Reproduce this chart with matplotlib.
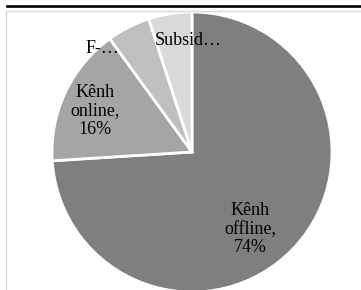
import numpy as np
import matplotlib
matplotlib.use("Agg")
import matplotlib.pyplot as plt
from matplotlib.patches import Rectangle
from matplotlib.lines import Line2D

# data
categories = ["Kênh offline", "Kênh online", "F-…", "Subsid…"]
shares = [74, 16, 5, 5]
show_pct = [True, True, False, False]

colors = ["#7f7f7f", "#a5a5a5", "#bfbfbf", "#d9d9d9"]
# label placement (radius fraction, angle in degrees)
label_pos = [(0.69, -53), (0.75, 157), (0.98, 131), (0.80, 92)]

W, H = 361, 290
fig = plt.figure(figsize=(W / 100, H / 100), dpi=100)
fig.patch.set_facecolor("white")

# chart area border + black rule + clipped title
fig.add_artist(Rectangle((6 / W, -0.1), 1.2, (H - 10.5) / H + 0.1,
                         transform=fig.transFigure, fill=False,
                         edgecolor="#d9d9d9", linewidth=1.0))
fig.add_artist(Line2D([7 / W, 1.0], [(H - 6) / H] * 2, transform=fig.transFigure,
                      color="black", linewidth=1.9))
fig.text(190 / W, (H + 0.5) / H, "Cơ cấu doanh thu theo kênh", ha="center",
         va="baseline", fontsize=13, color="#a0a0a0", family="Liberation Serif")

cx, cy, r = 192, 152, 140
ax = fig.add_axes([(cx - r) / W, (H - cy - r) / H, 2 * r / W, 2 * r / H])
wedges, _ = ax.pie(shares, colors=colors, startangle=90, counterclock=False,
                   wedgeprops=dict(edgecolor="white", linewidth=2.0))
ax.set_xlim(-1, 1)
ax.set_ylim(-1, 1)
ax.set_aspect("auto")
ax.axis("off")

for name, val, pct, (rr, ang) in zip(categories, shares, show_pct, label_pos):
    if pct:
        txt = name.replace(" ", "\n") + ",\n" + f"{val}%"
    else:
        txt = name
    x = rr * np.cos(np.radians(ang))
    y = rr * np.sin(np.radians(ang))
    ax.text(x, y, txt, ha="center", va="center", fontsize=13,
            family="Liberation Serif", color="black", linespacing=1.12)

plt.savefig("out.png", dpi=100, facecolor=fig.get_facecolor())
